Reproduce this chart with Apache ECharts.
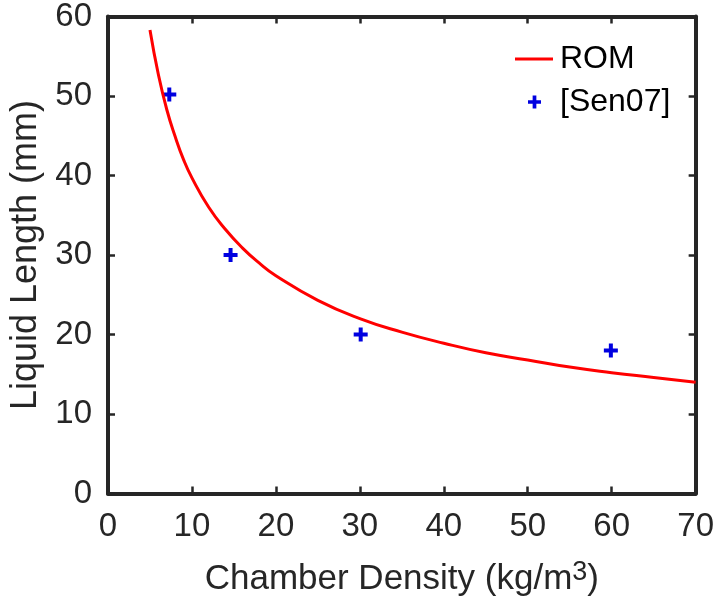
<!DOCTYPE html>
<html><head><meta charset="utf-8">
<script src="https://cdn.jsdelivr.net/npm/echarts@6/dist/echarts.min.js"></script>
<style>html,body{margin:0;padding:0;background:#fff}#c{width:717px;height:607px}</style>
</head><body><div id="c"></div>
<script>
// ROM curve
const romX = [5, 6, 7, 8, 9, 10, 12, 14, 16, 18, 20, 25, 30, 35, 40, 45, 50, 55, 60, 65, 70];
const romY = [58.3, 52.7, 48.3, 44.9, 42.0, 39.7, 36.0, 33.2, 30.9, 29.0, 27.4, 24.3, 22.0, 20.3, 18.9, 17.7, 16.8, 15.9, 15.2, 14.6, 14.0];
// [Sen07] measurements
const senX = [7.3, 14.6, 30.1, 59.9];
const senY = [50.2, 30.0, 20.0, 18.0];
const xTicks = [0, 10, 20, 30, 40, 50, 60, 70];
const yTicks = [0, 10, 20, 30, 40, 50, 60];

const plus = 'path://M5,0H9V5H14V9H9V14H5V9H0V5H5Z';
const dark = '#262626';
const font = 'Liberation Sans, Arial, sans-serif';
const chart = echarts.init(document.getElementById('c'));
const axBase = {
  type: 'value', min: 0, interval: 10,
  axisLine: {show: true, onZero: false, lineStyle: {color: dark, width: 4}},
  axisTick: {show: true, inside: true, length: 7, lineStyle: {color: dark, width: 2.5}},
  splitLine: {show: false}
};
chart.setOption({
  animation: false,
  grid: {left: 108, right: 21, top: 16.5, bottom: 113.5, show: false},
  legend: [
    {data: [{name: 'ROM', icon: 'rect'}], left: 510, top: 38, itemWidth: 38, itemHeight: 3, itemGap: 0,
      textStyle: {fontFamily: font, fontSize: 32, color: '#000', padding: [0,0,0,2]}},
    {data: [{name: '[Sen07]', icon: plus}], left: 523, top: 81, itemWidth: 13, itemHeight: 13,
      textStyle: {fontFamily: font, fontSize: 32, color: '#000', padding: [0,0,0,14]}}
  ],
  xAxis: [
    Object.assign({}, axBase, {max: 70, position: 'bottom',
      name: '{a|Chamber Density (kg/m}{s|3}{a|)}', nameLocation: 'middle', nameGap: 66,
      nameTextStyle: {rich: {a: {fontFamily: font, fontSize: 35, color: dark, lineHeight: 40},
        s: {fontFamily: font, fontSize: 27, color: dark, lineHeight: 24, verticalAlign: 'top'}}},
      axisLabel: {fontFamily: font, fontSize: 33, color: dark, margin: 17,
        formatter: v => xTicks.includes(v) ? String(v) : ''}}),
    Object.assign({}, axBase, {max: 70, position: 'top', axisLabel: {show: false}})
  ],
  yAxis: [
    Object.assign({}, axBase, {max: 60, position: 'left',
      name: 'Liquid Length (mm)', nameLocation: 'middle', nameGap: 55,
      nameTextStyle: {fontFamily: font, fontSize: 36, color: dark},
      axisLabel: {fontFamily: font, fontSize: 33, color: dark, margin: 16,
        formatter: v => yTicks.includes(v) ? String(v) : ''}}),
    Object.assign({}, axBase, {max: 60, position: 'right', axisLabel: {show: false}})
  ],
  series: [
    {name: 'ROM', type: 'line', smooth: true, showSymbol: false, symbol: 'none',
      data: romX.map((x, i) => [x, romY[i]]),
      lineStyle: {color: '#ff0000', width: 3}, itemStyle: {color: '#ff0000'}},
    {name: '[Sen07]', type: 'scatter', symbol: plus, symbolSize: 14,
      data: senX.map((x, i) => [x, senY[i]]),
      itemStyle: {color: '#0000e0', opacity: 1}}
  ]
});
</script></body></html>
